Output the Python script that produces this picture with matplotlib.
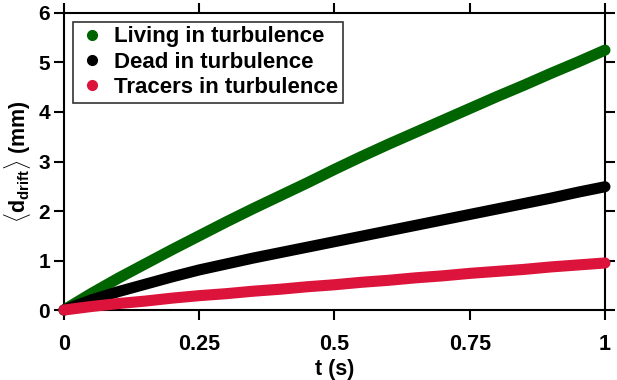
import matplotlib
matplotlib.use('Agg')
import matplotlib.pyplot as plt
from matplotlib.lines import Line2D

plt.rcParams['font.family'] = ['Liberation Sans', 'DejaVu Sans']
plt.rcParams['font.weight'] = 'bold'
plt.rcParams['mathtext.fontset'] = 'custom'
plt.rcParams['mathtext.rm'] = 'Liberation Sans:bold'
plt.rcParams['mathtext.bf'] = 'Liberation Sans:bold'
plt.rcParams['mathtext.it'] = 'Liberation Sans:bold'

# time (s)
t = [0, 0.05, 0.1, 0.15, 0.2, 0.25, 0.3, 0.35, 0.4, 0.45, 0.5,
     0.55, 0.6, 0.65, 0.7, 0.75, 0.8, 0.85, 0.9, 0.95, 1.0]

# mean drift distance (mm)
living = [0, 0.33, 0.64, 0.93, 1.22, 1.50, 1.78, 2.05, 2.31, 2.57, 2.84,
          3.10, 3.35, 3.59, 3.83, 4.07, 4.31, 4.54, 4.78, 5.01, 5.25]
dead = [0, 0.20, 0.37, 0.52, 0.67, 0.81, 0.93, 1.05, 1.16, 1.27, 1.38,
        1.49, 1.60, 1.71, 1.82, 1.93, 2.04, 2.15, 2.26, 2.38, 2.49]
tracers = [0, 0.07, 0.13, 0.18, 0.24, 0.29, 0.33, 0.38, 0.42, 0.47, 0.51,
           0.56, 0.60, 0.65, 0.69, 0.74, 0.78, 0.82, 0.87, 0.91, 0.95]

labels = ['Living in turbulence', 'Dead in turbulence', 'Tracers in turbulence']
colors = ['#006400', '#000000', '#dc143c']

fig = plt.figure(figsize=(6.17, 3.80), dpi=100)
ax = fig.add_axes([0.1037, 0.1842, 0.8768, 0.7816])

for y, c in zip([living, dead, tracers], colors):
    ax.plot(t, y, color=c, lw=8, solid_capstyle='round',
            solid_joinstyle='round', clip_on=False, zorder=3)

ax.set_xlim(0, 1)
ax.set_ylim(0, 6)
ax.set_xticks([0, 0.25, 0.5, 0.75, 1])
ax.set_xticklabels(['0', '0.25', '0.5', '0.75', '1'])
ax.set_yticks(range(7))

for s in ax.spines.values():
    s.set_linewidth(1.5)
ax.tick_params(axis='both', direction='out', length=7, width=1.5,
               top=True, right=True)
ax.tick_params(axis='x', labelsize=15.5, pad=10)
ax.tick_params(axis='y', labelsize=15, pad=3)

ax.set_xlabel('t (s)', fontsize=15.5, fontweight='bold', labelpad=3)
ax.set_ylabel(r'$\langle \mathrm{d}_{\mathrm{drift}} \rangle$ (mm)',
              fontsize=15.5, fontweight='bold', labelpad=4)

handles = [Line2D([], [], ls='none', marker='o', ms=7, color=c) for c in colors]
leg = ax.legend(handles, labels, loc='upper left', fontsize=16,
                frameon=True, fancybox=False, edgecolor='black',
                borderaxespad=0.4, handletextpad=0.35, handlelength=1.3,
                labelspacing=0.2, borderpad=0.2)
leg.get_frame().set_linewidth(1.2)
leg.set_zorder(5)

fig.savefig('out.png', dpi=100)
